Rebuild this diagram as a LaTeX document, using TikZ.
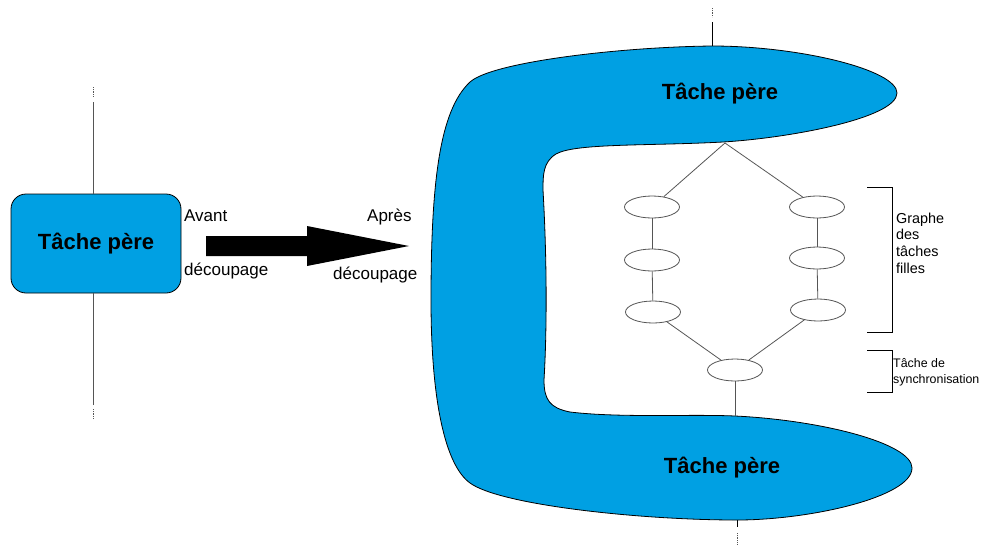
\documentclass[tikz,border=0pt]{standalone}
\usepackage{fontspec}
\setmainfont{Liberation Sans}
\usepackage{tikz}
\usetikzlibrary{calc}
\usetikzlibrary{shapes.geometric}
\usetikzlibrary{positioning}
\definecolor{ciel}{RGB}{0, 160, 227}
\definecolor{trait}{RGB}{85, 85, 85}
\tikzset{
  fille/.style={ellipse, draw=trait, fill=white, line width=0.8pt, minimum width=55pt, minimum height=22pt, inner sep=0pt},
  lien/.style={draw=trait, line width=0.8pt},
  pointille/.style={draw=trait, densely dotted, line width=0.8pt},
  titre/.style={font=\fontsize{22}{26}\selectfont\bfseries},
  legende/.style={font=\fontsize{17}{20}\selectfont, inner sep=0pt, anchor=west}
}
\begin{document}
\begin{tikzpicture}[x=1pt, y=-1pt]
            \useasboundingbox (0,0) rectangle (982,550);
            % avant decoupage
            \coordinate (gh) at (93,102);
            \coordinate (gb) at (93,405);
            \draw[pointille] (93,87) -- (93,97);
            \draw[pointille] (93,409) -- (93,419);
            \node[draw=black, fill=ciel, rounded corners=15pt, line width=0.8pt, minimum width=170pt, minimum height=99pt, titre]
                 (pere) at (96,243.5) {Tâche père};
            \draw[lien] (gh) -- (gh |- pere.north);
            \draw[lien] (gb) -- (gb |- pere.south);
            \node[legende] (avant) at (184,216) {Avant};
            \node[legende] (decA) at (184,271) {découpage};
            \fill[black] (206,236) -- (307,236) -- (307,226) -- (409,246) -- (307,266) -- (307,256) -- (206,256) -- cycle;
            \node[legende] (apres) at (367,217) {Après};
            \node[legende] (decB) at (333,275) {découpage};
            % apres decoupage
            \draw[pointille] (712,8) -- (712,17);
            \draw[lien, draw=black] (712,22) -- (712,47);
            \draw[pointille] (737,533) -- (737,545);
            \draw[lien, draw=black] (737,519) -- (737,527);
            \filldraw[fill=ciel, draw=black, line width=0.8pt]
                 (431,300) .. controls (431,180) and (440,110) .. (470,82)
                 .. controls (492,62) and (620,47) .. (712,46)
                 .. controls (800,46) and (897,70) .. (897,93)
                 .. controls (897,118) and (790,138) .. (723,142)
                 .. controls (650,146) and (575,143) .. (556,154)
                 .. controls (543,162) and (543,175) .. (543,190)
                 .. controls (547,260) and (547,330) .. (544,380)
                 .. controls (544,400) and (550,408) .. (570,412)
                 .. controls (620,418) and (690,414) .. (735,416)
                 .. controls (820,420) and (912,443) .. (912,468)
                 .. controls (912,497) and (810,520) .. (737,520)
                 .. controls (640,520) and (500,505) .. (470,483)
                 .. controls (445,465) and (431,400) .. (431,300) -- cycle;
            \node[titre] (haut) at (720,94) {Tâche père};
            \node[titre] (bas) at (722,468) {Tâche père};
            \coordinate (depart) at (725,143);
            \coordinate (arrivee) at (735,416);
            \node[fille] (fl1) at (652,207) {};
            \node[fille] (fl2) at (652,260) {};
            \node[fille] (fl3) at (653,312) {};
            \node[fille] (fr1) at (817,207) {};
            \node[fille] (fr2) at (817,258) {};
            \node[fille] (fr3) at (818,310) {};
            \node[fille] (sync) at (735,370) {};
            \draw[lien] (depart) -- (fl1);
            \draw[lien] (depart) -- (fr1);
            \draw[lien] (fl1) -- (fl2);
            \draw[lien] (fl2) -- (fl3);
            \draw[lien] (fr1) -- (fr2);
            \draw[lien] (fr2) -- (fr3);
            \draw[lien] (fl3) -- (sync);
            \draw[lien] (fr3) -- (sync);
            \draw[lien] (sync) -- (arrivee);
            % accolades
            \draw[black, line width=0.8pt] (867,187) -- (892,187) -- (892,332) -- (867,332);
            \draw[black, line width=0.8pt] (867,350) -- (892,350) -- (892,392) -- (867,392);
            \node[anchor=west, inner sep=0pt, align=left, font=\fontsize{14.4}{16.7}\selectfont]
                 (graphe) at (896,243) {Graphe\\des\\tâches\\filles};
            \node[anchor=west, inner sep=0pt, align=left, font=\fontsize{12.4}{16}\selectfont]
                 (synchro) at (893,372) {Tâche de\\synchronisation};
        \end{tikzpicture}
\end{document}
